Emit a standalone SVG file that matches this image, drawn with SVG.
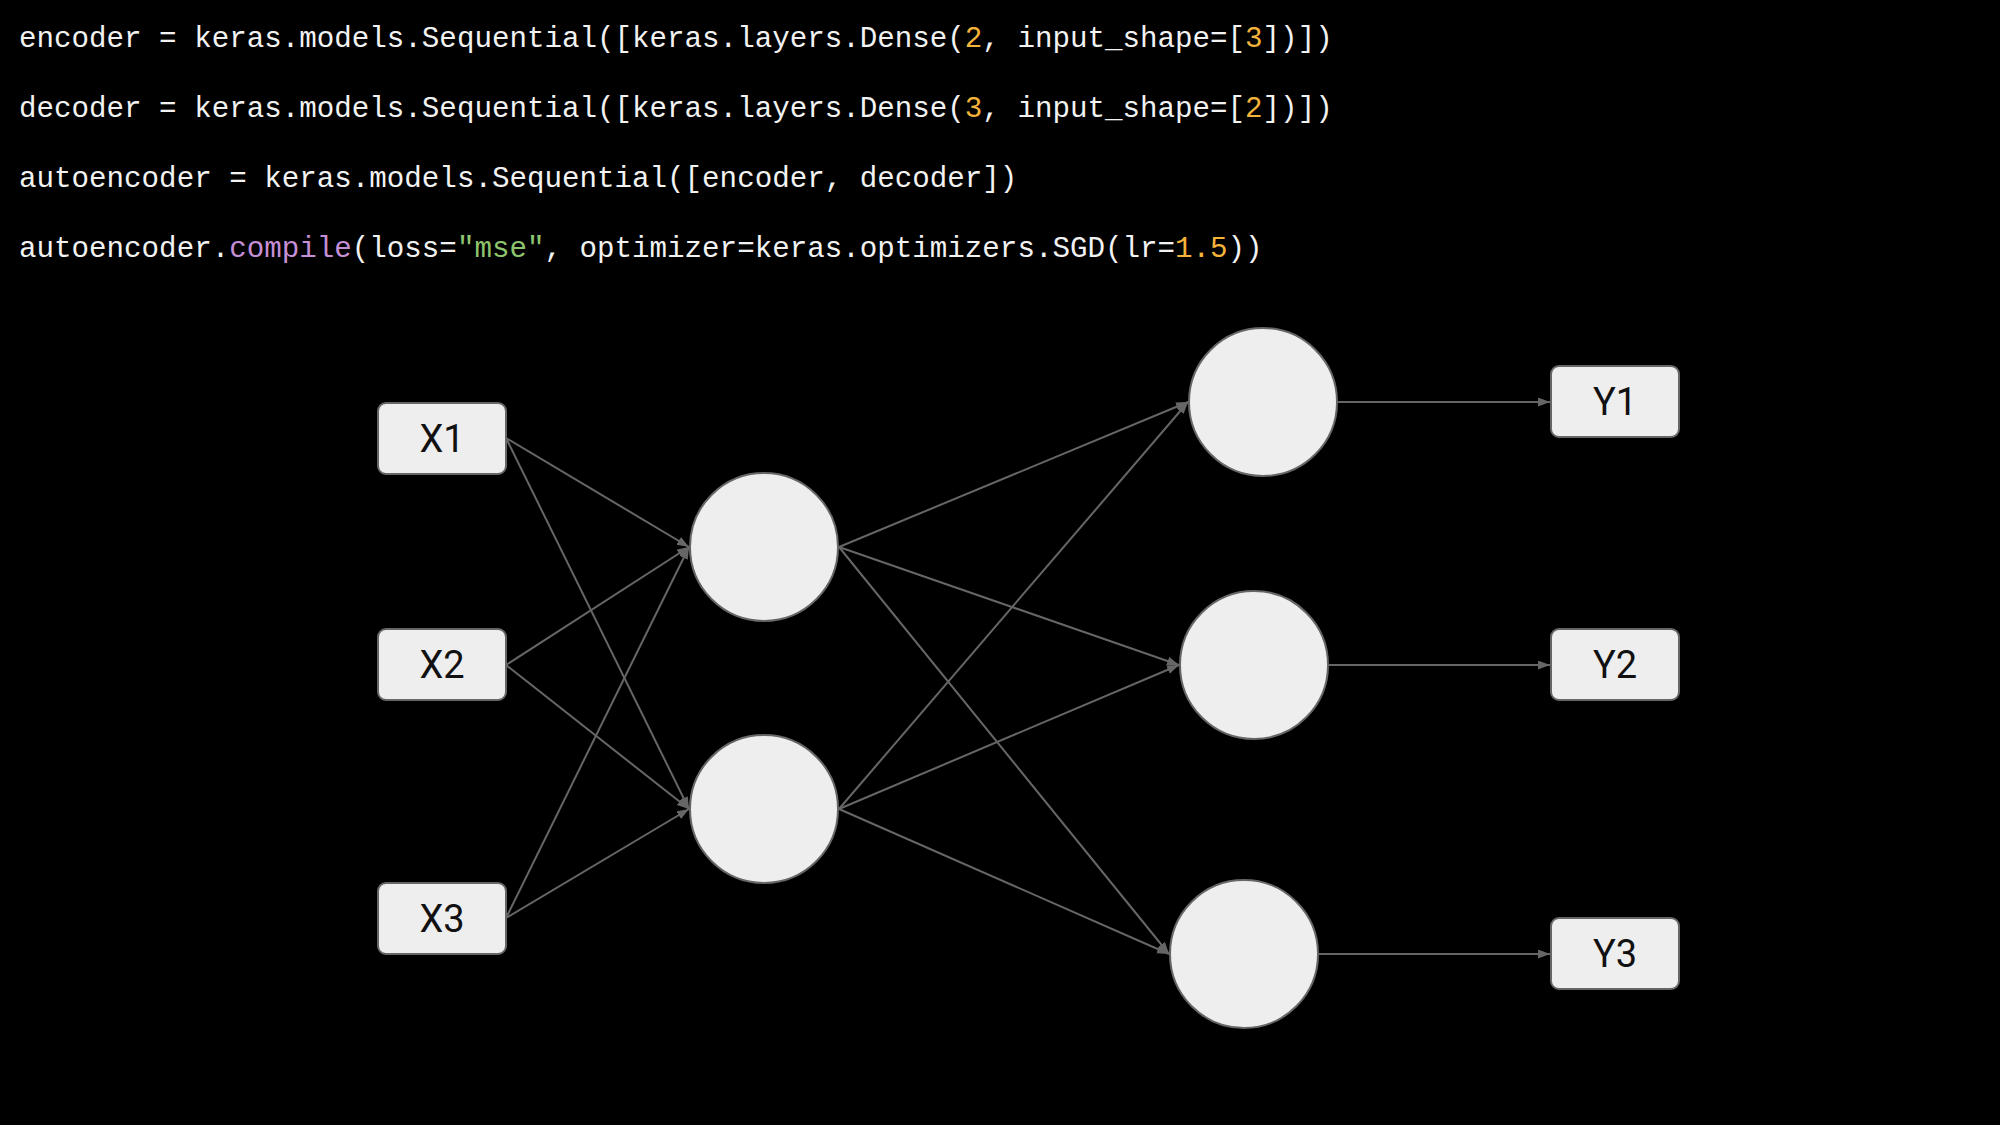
<svg xmlns="http://www.w3.org/2000/svg" width="2000" height="1125" viewBox="0 0 2000 1125">
<defs>
<style>
.code{font-family:"Liberation Mono","DejaVu Sans Mono",monospace;font-size:29.2px;fill:#f2f2f2;white-space:pre}
.num{fill:#f4b43a}
.fn{fill:#c58fd6}
.str{fill:#8fc46e}
.box{fill:#eeeeee;stroke:#666666;stroke-width:2}
.lbl{font-family:Roboto,"Liberation Sans",sans-serif;font-size:38px;fill:#111111;text-anchor:middle;dominant-baseline:central}
.edge{stroke:#666666;stroke-width:2;fill:none;marker-end:url(#arr)}
</style>
<marker id="arr" markerUnits="userSpaceOnUse" markerWidth="13" markerHeight="10" refX="12" refY="4.5" orient="auto">
<path d="M0,0 L12,4.5 L0,9 z" fill="#666666"/>
</marker>
</defs>
<rect width="2000" height="1125" fill="#000000"/>
<g id="code">
<text class="code" x="19" y="47">encoder = keras.models.Sequential([keras.layers.Dense(<tspan class="num">2</tspan>, input_shape=[<tspan class="num">3</tspan>])])</text>
<text class="code" x="19" y="117">decoder = keras.models.Sequential([keras.layers.Dense(<tspan class="num">3</tspan>, input_shape=[<tspan class="num">2</tspan>])])</text>
<text class="code" x="19" y="187">autoencoder = keras.models.Sequential([encoder, decoder])</text>
<text class="code" x="19" y="257">autoencoder.<tspan class="fn">compile</tspan>(loss=<tspan class="str">"mse"</tspan>, optimizer=keras.optimizers.SGD(lr=<tspan class="num">1.5</tspan>))</text>
</g>
<g id="connectors">
<line class="edge" x1="506" y1="438" x2="689" y2="547"/>
<line class="edge" x1="506" y1="438" x2="689" y2="809"/>
<line class="edge" x1="506" y1="665" x2="689" y2="547"/>
<line class="edge" x1="506" y1="665" x2="689" y2="809"/>
<line class="edge" x1="506" y1="918" x2="689" y2="547"/>
<line class="edge" x1="506" y1="918" x2="689" y2="809"/>
<line class="edge" x1="839" y1="547" x2="1188" y2="402"/>
<line class="edge" x1="839" y1="547" x2="1179" y2="665"/>
<line class="edge" x1="839" y1="547" x2="1169" y2="954"/>
<line class="edge" x1="839" y1="809" x2="1188" y2="402"/>
<line class="edge" x1="839" y1="809" x2="1179" y2="665"/>
<line class="edge" x1="839" y1="809" x2="1169" y2="954"/>
<line class="edge" x1="1338" y1="402" x2="1550" y2="402"/>
<line class="edge" x1="1329" y1="665" x2="1550" y2="665"/>
<line class="edge" x1="1319" y1="954" x2="1550" y2="954"/>
</g>
<g id="X1"><rect class="box" x="378" y="403" width="128" height="71" rx="8"/><text class="lbl" x="442" y="439">X1</text></g>
<g id="X2"><rect class="box" x="378" y="629" width="128" height="71" rx="8"/><text class="lbl" x="442" y="665">X2</text></g>
<g id="X3"><rect class="box" x="378" y="883" width="128" height="71" rx="8"/><text class="lbl" x="442" y="919">X3</text></g>
<g id="E1"><circle class="box" cx="764" cy="547" r="74"/></g>
<g id="E2"><circle class="box" cx="764" cy="809" r="74"/></g>
<g id="D1"><circle class="box" cx="1263" cy="402" r="74"/></g>
<g id="D2"><circle class="box" cx="1254" cy="665" r="74"/></g>
<g id="D3"><circle class="box" cx="1244" cy="954" r="74"/></g>
<g id="Y1"><rect class="box" x="1551" y="366" width="128" height="71" rx="8"/><text class="lbl" x="1615" y="402">Y1</text></g>
<g id="Y2"><rect class="box" x="1551" y="629" width="128" height="71" rx="8"/><text class="lbl" x="1615" y="665">Y2</text></g>
<g id="Y3"><rect class="box" x="1551" y="918" width="128" height="71" rx="8"/><text class="lbl" x="1615" y="954">Y3</text></g>
</svg>
